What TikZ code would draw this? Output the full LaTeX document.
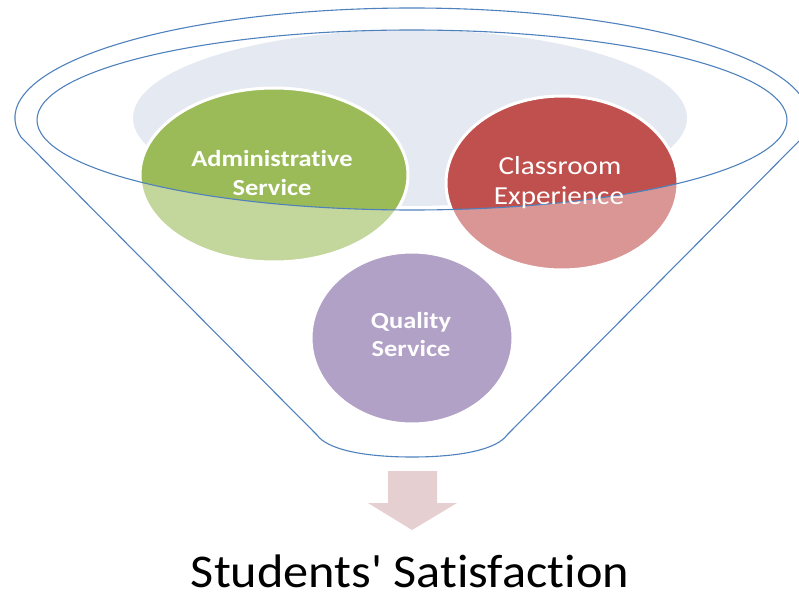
\documentclass[tikz,border=0pt]{standalone}
\usepackage{fontspec}
\setmainfont{Carlito}[Ligatures={TeXOff,NoCommon}]
\definecolor{funnelblue}{HTML}{4F81BD}
\definecolor{greyblue}{HTML}{E4E9F2}
\definecolor{greenD}{HTML}{9BBB59}
\definecolor{greenL}{HTML}{C3D69B}
\definecolor{redD}{HTML}{C0504D}
\definecolor{redL}{HTML}{D99694}
\definecolor{purpleC}{HTML}{B2A1C7}
\definecolor{arrowc}{HTML}{E6CFD0}
\tikzset{
  funnelline/.style={draw=funnelblue, line width=1.1pt},
  bubbleborder/.style={draw=white, line width=3pt},
  bubbletext/.style={text=white, anchor=base, inner sep=0pt},
  bigtext/.style={text=black, anchor=base, inner sep=0pt}
}
\begin{document}
\begin{tikzpicture}[x=1pt,y=1pt]
\useasboundingbox (0,0) rectangle (799,-596);
% reference points
\coordinate (fc) at (412,-118);
\coordinate (ic) at (412,-120);
\coordinate (gc) at (410,-118);
\coordinate (gr) at (274,-175);
\coordinate (rd) at (562,-183);
\coordinate (pu) at (412,-338);
% grey-blue inner disc
\fill[greyblue] (gc) ellipse [x radius=277, y radius=88];
% green bubble
\fill[greenL] (gr) ellipse [x radius=134, y radius=87];
\begin{scope}
  \clip (ic) ellipse [x radius=375, y radius=90];
  \fill[greenD] (gr) ellipse [x radius=134, y radius=87];
\end{scope}
\draw[bubbleborder] (gr) ellipse [x radius=134, y radius=87];
% red bubble
\fill[redL] (rd) ellipse [x radius=116, y radius=87];
\begin{scope}
  \clip (ic) ellipse [x radius=375, y radius=90];
  \fill[redD] (rd) ellipse [x radius=116, y radius=87];
\end{scope}
\draw[bubbleborder] (rd) ellipse [x radius=116, y radius=87];
% purple bubble
\fill[purpleC] (pu) ellipse [x radius=101, y radius=86];
\draw[bubbleborder] (pu) ellipse [x radius=101, y radius=86];
% funnel outlines
\draw[funnelline] (ic) ellipse [x radius=375, y radius=90];
\draw[funnelline] (21,-137.1) arc [start angle=190, end angle=-10, x radius=397, y radius=110]
  -- (507,-435) .. controls (497,-449) and (462,-457) .. (412,-457)
  .. controls (362,-457) and (327,-449) .. (317,-435) -- cycle;
% texts
\node[bubbletext, font=\fontsize{23}{28}\selectfont\bfseries, xscale=1.15] (t1) at (272,-167) {Administrative};
\node[bubbletext, font=\fontsize{23}{28}\selectfont\bfseries, xscale=1.15] (t2) at (272,-195) {Service};
\node[bubbletext, font=\fontsize{26}{30}\selectfont, xscale=1.12] (t3) at (560,-175) {Classroom};
\node[bubbletext, font=\fontsize{26}{30}\selectfont, xscale=1.12] (t4) at (559,-204) {Experience};
\node[bubbletext, font=\fontsize{23}{28}\selectfont\bfseries, xscale=1.15] (t5) at (411,-328) {Quality};
\node[bubbletext, font=\fontsize{23}{28}\selectfont\bfseries, xscale=1.15] (t6) at (411,-356) {Service};
% arrow
\fill[arrowc] (388,-471) -- (437,-471) -- (437,-503) -- (457,-503) -- (412,-530)
  -- (368,-503) -- (388,-503) -- cycle;
\node[bigtext, font=\fontsize{47}{56}\selectfont, xscale=1.07] (ss) at (410,-587) {Students' Satisfaction};
\end{tikzpicture}
\end{document}
